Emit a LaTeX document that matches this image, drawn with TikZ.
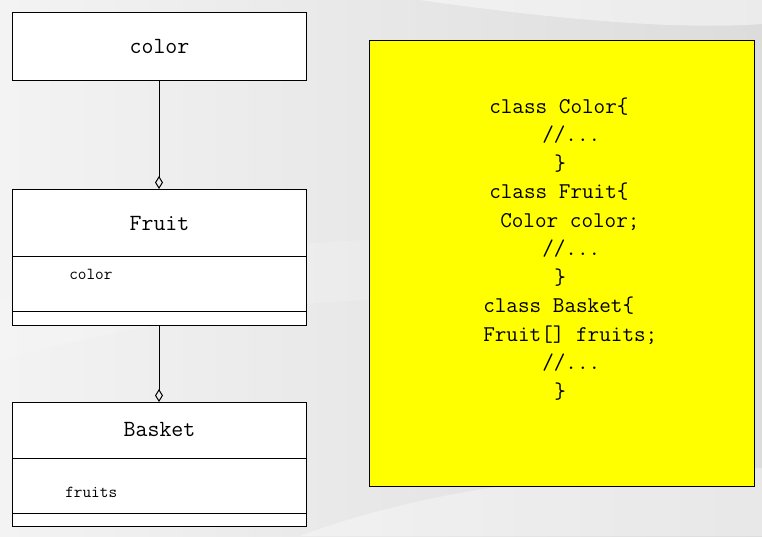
\documentclass[tikz,border=0pt]{standalone}
\usetikzlibrary{arrows.meta}
\definecolor{bgl}{HTML}{F3F3F3}
\definecolor{bgr}{HTML}{DCDCDC}
\definecolor{codey}{HTML}{FFFF00}
\tikzset{
  umlbox/.style={draw=black,line width=0.75pt,fill=white},
  divline/.style={draw=black,line width=0.75pt},
  title/.style={font=\ttfamily\fontsize{17.4}{20}\selectfont,anchor=base,inner sep=0pt},
  attr/.style={font=\ttfamily\fontsize{12.6}{15}\selectfont,anchor=base west,inner sep=0pt},
  code/.style={font=\ttfamily\fontsize{16.9}{20}\selectfont,anchor=base west,inner sep=0pt},
  aggr/.style={draw=black,line width=0.75pt,-{Diamond[open,length=9.75pt,width=6pt,line width=0.75pt]}},
}
\begin{document}
\begin{tikzpicture}[x=0.75pt,y=-0.75pt]
\useasboundingbox (0,0) rectangle (762,536);
% background
\shade[left color=bgl,right color=bgr] (0,0) rectangle (762,536);
\fill[white,opacity=0.45] (420,0) .. controls (560,20) and (680,30) .. (762,24) -- (762,0) -- cycle;
\fill[white,opacity=0.35] (300,536) .. controls (450,480) and (620,470) .. (762,468) -- (762,536) -- cycle;
\fill[white,opacity=0.15] (0,300) .. controls (150,260) and (300,240) .. (380,240) -- (380,300) .. controls (300,300) and (150,320) .. (0,360) -- cycle;

% color box
\path[umlbox] (12,12) rectangle (306,80);
\node[title] (tcolor) at (159.5,53) {color};
\coordinate (colorB) at (159,80);

% Fruit box
\path[umlbox] (12,189) rectangle (306,325);
\draw[divline] (12,256) -- (306,256);
\draw[divline] (12,311) -- (306,311);
\node[title] (tfruit) at (159.5,230.5) {Fruit};
\node[attr] (afruit) at (69,279) {color};
\coordinate (fruitT) at (159,189);
\coordinate (fruitB) at (159,325);

% Basket box
\path[umlbox] (12,402) rectangle (306,526);
\draw[divline] (12,458) -- (306,458);
\draw[divline] (12,513) -- (306,513);
\node[title] (tbasket) at (159.5,436) {Basket};
\node[attr] (abasket) at (65,497.5) {fruits};
\coordinate (basketT) at (159,402);

% connectors
\draw[aggr] (colorB) -- (fruitT);
\draw[aggr] (fruitB) -- (basketT);

% code box
\path[draw=black,line width=0.75pt,fill=codey] (369,40) rectangle (754,486);
\node[code] (l1) at (489,113) {class Color\{};
\node[code] (l2) at (542,141.5) {//...};
\node[code] (l3) at (554,170) {\}};
\node[code] (l4) at (489,198.5) {class Fruit\{};
\node[code] (l5) at (500,227) {Color color;};
\node[code] (l6) at (542,255.5) {//...};
\node[code] (l7) at (554,284) {\}};
\node[code] (l8) at (483,312.5) {class Basket\{};
\node[code] (l9) at (483,341) {Fruit[] fruits;};
\node[code] (l10) at (542,369.5) {//...};
\node[code] (l11) at (554,398) {\}};
\end{tikzpicture}
\end{document}
